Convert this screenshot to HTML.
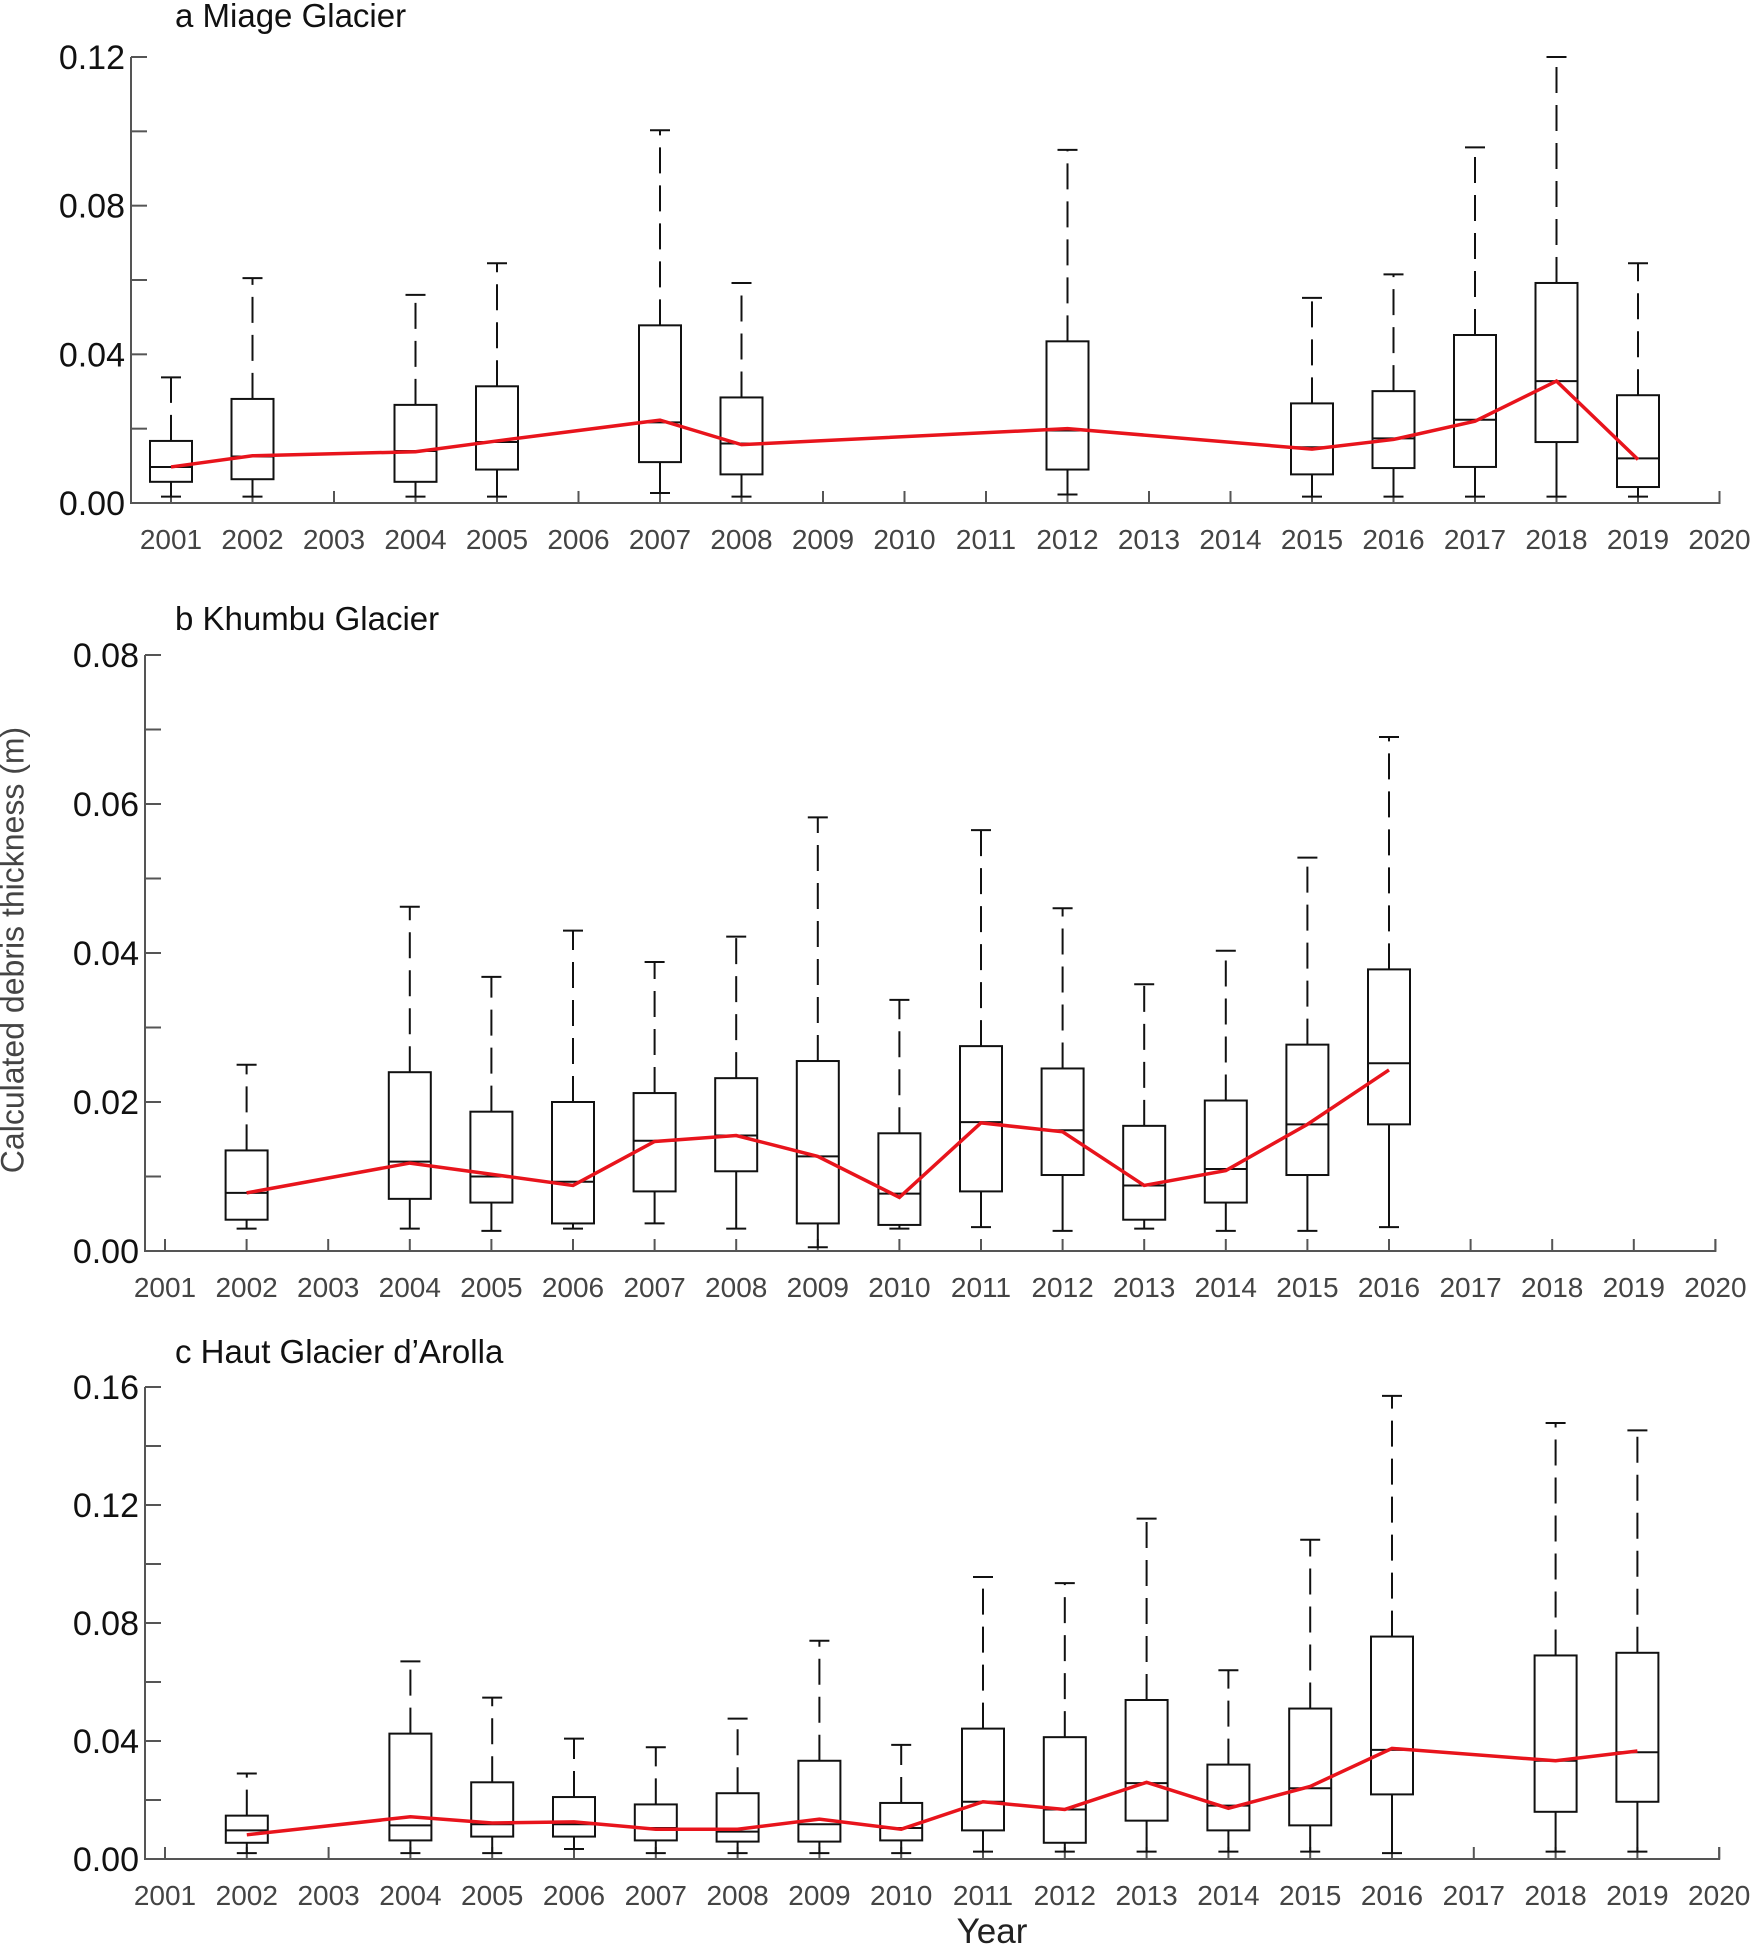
<!DOCTYPE html>
<html><head><meta charset="utf-8"><style>
body{margin:0;background:#fff}
svg{display:block;font-family:"Liberation Sans",Arial,sans-serif}
</style></head><body>
<svg id="chart" width="1750" height="1948" viewBox="0 0 1750 1948">
<text x="15" y="950" transform="rotate(-90 15 950)" text-anchor="middle" dominant-baseline="middle" font-size="32" fill="#444">Calculated debris thickness (m)</text>
<text x="992" y="1943" text-anchor="middle" font-size="35" fill="#222">Year</text>
</svg>
<script>
// Panel a: Miage Glacier
const yearsA=[2001,2002,2004,2005,2007,2008,2012,2015,2016,2017,2018,2019];
const lowA=[0.0017,0.0017,0.0017,0.0017,0.0027,0.0017,0.0023,0.0017,0.0017,0.0017,0.0017,0.0017];
const q1A=[0.0057,0.0064,0.0057,0.009,0.011,0.0077,0.009,0.0077,0.0094,0.0097,0.0164,0.0043];
const medA=[0.0097,0.0125,0.014,0.0164,0.0217,0.016,0.0195,0.015,0.0174,0.0224,0.0328,0.012];
const q3A=[0.0167,0.028,0.0264,0.0314,0.0478,0.0284,0.0435,0.0268,0.0301,0.0452,0.0592,0.029];
const highA=[0.0338,0.0605,0.056,0.0645,0.1003,0.0592,0.095,0.0552,0.0615,0.0957,0.12,0.0645];
const meanA=[0.0097,0.0127,0.0138,0.0167,0.0223,0.0157,0.02,0.0145,0.0171,0.022,0.0328,0.0117];
const ticksA=[0,0.04,0.08,0.12];
// Panel b: Khumbu Glacier
const yearsB=[2002,2004,2005,2006,2007,2008,2009,2010,2011,2012,2013,2014,2015,2016];
const lowB=[0.003,0.003,0.0027,0.003,0.0037,0.003,0.0005,0.003,0.0032,0.0027,0.003,0.0027,0.0027,0.0032];
const q1B=[0.0042,0.007,0.0065,0.0037,0.008,0.0107,0.0037,0.0035,0.008,0.0102,0.0042,0.0065,0.0102,0.017];
const medB=[0.0078,0.012,0.01,0.0093,0.0148,0.0155,0.0127,0.0077,0.0173,0.0162,0.0088,0.011,0.017,0.0252];
const q3B=[0.0135,0.024,0.0187,0.02,0.0212,0.0232,0.0255,0.0158,0.0275,0.0245,0.0168,0.0202,0.0277,0.0378];
const highB=[0.025,0.0462,0.0368,0.043,0.0388,0.0422,0.0582,0.0337,0.0565,0.046,0.0358,0.0403,0.0528,0.069];
const meanB=[0.0078,0.0118,0.0103,0.0088,0.0147,0.0155,0.0127,0.0072,0.0172,0.016,0.0088,0.0108,0.017,0.0243];
const ticksB=[0,0.02,0.04,0.06,0.08];
// Panel c: Haut Glacier d'Arolla
const yearsC=[2002,2004,2005,2006,2007,2008,2009,2010,2011,2012,2013,2014,2015,2016,2018,2019];
const lowC=[0.002,0.002,0.002,0.0034,0.002,0.002,0.002,0.002,0.0025,0.0025,0.0025,0.0025,0.0025,0.002,0.0025,0.0025];
const q1C=[0.0055,0.0063,0.0076,0.0076,0.0063,0.0059,0.0059,0.0063,0.0097,0.0055,0.013,0.0097,0.0114,0.0219,0.016,0.0194];
const medC=[0.0097,0.0114,0.0118,0.0118,0.0105,0.0093,0.0118,0.0105,0.0194,0.0168,0.0257,0.0181,0.024,0.037,0.0333,0.0362];
const q3C=[0.0147,0.0425,0.026,0.021,0.0185,0.0223,0.0333,0.019,0.0442,0.0413,0.0539,0.032,0.051,0.0754,0.069,0.0699];
const highC=[0.029,0.067,0.0547,0.0408,0.0379,0.0476,0.074,0.0387,0.0956,0.0935,0.1154,0.064,0.1082,0.157,0.1478,0.1453];
const meanC=[0.0082,0.0143,0.0122,0.0126,0.0101,0.0101,0.0135,0.0101,0.0194,0.0168,0.026,0.0172,0.0246,0.0375,0.0333,0.0366];
const ticksC=[0,0.04,0.08,0.12,0.16];
const allYears=[];for(let y=2001;y<=2020;y++)allYears.push(y);

const svg=document.getElementById('chart');
const NS='http://www.w3.org/2000/svg';
function mk(tag,attrs,parent){const e=document.createElementNS(NS,tag);for(const k in attrs)e.setAttribute(k,attrs[k]);(parent||svg).appendChild(e);return e;}

function panel(cfg){
  const g=mk('g',{});
  
  
  const xs=y=>cfg.x0+(y-2001)*cfg.step;
  const ys=v=>cfg.yb+(cfg.yt-cfg.yb)*v/cfg.ymax;
  const t=mk('text',{x:cfg.tx,y:cfg.ty,'font-size':33,fill:'#111'},g);t.textContent=cfg.title;
  
  
  const ax=mk('path',{d:`M${cfg.ax},${ys(cfg.ymax)}V${cfg.yb}H${xs(2020)}V${cfg.yb-12}`,stroke:'#555','stroke-width':2,fill:'none'},g);
  
  
  for(let v=0;v<=cfg.ymax+1e-9;v+=cfg.minor){
    mk('line',{x1:cfg.ax,x2:cfg.ax+16,y1:ys(v),y2:ys(v),stroke:'#555','stroke-width':2},g);
  }
  cfg.ticks.forEach(v=>{
    const l=mk('text',{x:cfg.ax-6,y:ys(v)+12,'text-anchor':'end','font-size':34,fill:'#111'},g);
    l.textContent=v.toFixed(2);
    
    
  });
  allYears.forEach(y=>{
    mk('line',{x1:xs(y),x2:xs(y),y1:cfg.yb,y2:cfg.yb-12,stroke:'#555','stroke-width':2},g);
    const l=mk('text',{x:xs(y),y:cfg.yb+46,'text-anchor':'middle','font-size':28,fill:'#444'},g);
    l.textContent=y;
    
    
  });
  const bw=42,cw=20;
  cfg.years.forEach((y,i)=>{
    const b=mk('g',{},g);
    
    
    const x=xs(y);
    mk('line',{x1:x,x2:x,y1:ys(cfg.q3[i]),y2:ys(cfg.high[i]),stroke:'#111','stroke-width':2,'stroke-dasharray':'26,12'},b);
    mk('line',{x1:x,x2:x,y1:ys(cfg.q1[i]),y2:ys(cfg.low[i]),stroke:'#111','stroke-width':2},b);
    mk('line',{x1:x-cw/2,x2:x+cw/2,y1:ys(cfg.high[i]),y2:ys(cfg.high[i]),stroke:'#111','stroke-width':2},b);
    mk('line',{x1:x-cw/2,x2:x+cw/2,y1:ys(cfg.low[i]),y2:ys(cfg.low[i]),stroke:'#111','stroke-width':2},b);
    mk('rect',{x:x-bw/2,y:ys(cfg.q3[i]),width:bw,height:ys(cfg.q1[i])-ys(cfg.q3[i]),fill:'none',stroke:'#111','stroke-width':2},b);
    mk('line',{x1:x-bw/2,x2:x+bw/2,y1:ys(cfg.med[i]),y2:ys(cfg.med[i]),stroke:'#111','stroke-width':2},b);
  });
  const ml=mk('polyline',{points:cfg.years.map((y,i)=>xs(y)+','+ys(cfg.mean[i])).join(' '),fill:'none',stroke:'#e8141c','stroke-width':3.5},g);
  
  
}
panel({name:'panel-a-miage',title:'a Miage Glacier',tx:175,ty:27,ax:131,x0:171,step:81.5,yb:503,yt:57,ymax:0.12,minor:0.02,ticks:ticksA,
  years:yearsA,low:lowA,q1:q1A,med:medA,q3:q3A,high:highA,mean:meanA});
panel({name:'panel-b-khumbu',title:'b Khumbu Glacier',tx:175,ty:630,ax:145,x0:165,step:81.6,yb:1251,yt:655,ymax:0.08,minor:0.01,ticks:ticksB,
  years:yearsB,low:lowB,q1:q1B,med:medB,q3:q3B,high:highB,mean:meanB});
panel({name:'panel-c-arolla',title:'c Haut Glacier d\u2019Arolla',tx:175,ty:1363,ax:145,x0:165,step:81.8,yb:1859,yt:1387,ymax:0.16,minor:0.02,ticks:ticksC,
  years:yearsC,low:lowC,q1:q1C,med:medC,q3:q3C,high:highC,mean:meanC});
</script>
</body></html>
